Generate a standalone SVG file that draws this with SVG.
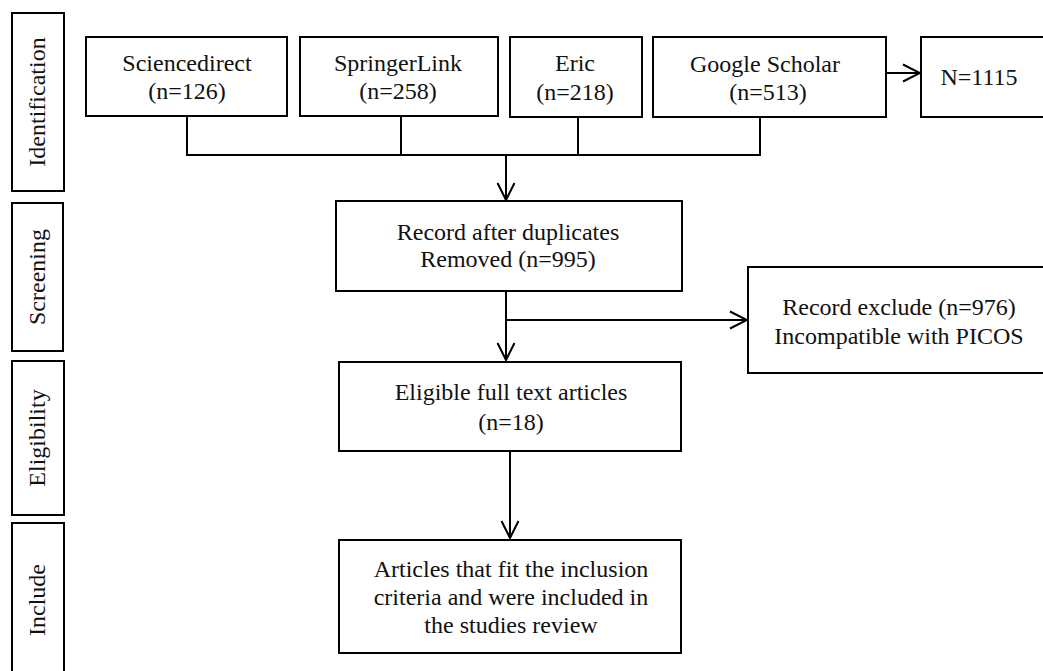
<svg xmlns="http://www.w3.org/2000/svg" width="1043" height="671" viewBox="0 0 1043 671">
<defs>
<style>
.box{fill:#fff;stroke:#000;stroke-width:2}
.t{font-family:"Liberation Serif","Times New Roman",serif;font-size:24px;fill:#111;text-anchor:middle}
.c{fill:none;stroke:#000;stroke-width:2}
</style>
<marker id="arr" viewBox="0 0 20 20" refX="18" refY="10" markerWidth="20" markerHeight="20" markerUnits="userSpaceOnUse" orient="auto">
<path d="M1,1.5 L18,10 L1,18.5" fill="none" stroke="#000" stroke-width="2"/>
</marker>
</defs>
<rect width="1043" height="671" fill="#fff"/>

<g id="stage-identification">
<rect class="box" x="12" y="13" width="52" height="178"/>
<text class="t" transform="translate(45,102) rotate(-90)">Identification</text>
</g>
<g id="stage-screening">
<rect class="box" x="12" y="203" width="51" height="148"/>
<text class="t" transform="translate(45,277) rotate(-90)">Screening</text>
</g>
<g id="stage-eligibility">
<rect class="box" x="12" y="361" width="52" height="154"/>
<text class="t" transform="translate(45,438) rotate(-90)">Eligibility</text>
</g>
<g id="stage-include">
<rect class="box" x="12" y="523" width="52" height="160"/>
<text class="t" transform="translate(45,600) rotate(-90)">Include</text>
</g>

<g id="sciencedirect">
<rect class="box" x="86" y="37" width="201" height="79"/>
<text class="t" x="187" y="71">Sciencedirect</text>
<text class="t" x="187" y="99">(n=126)</text>
</g>
<g id="springerlink">
<rect class="box" x="300" y="37" width="198" height="79"/>
<text class="t" x="398" y="71">SpringerLink</text>
<text class="t" x="398" y="99">(n=258)</text>
</g>
<g id="eric">
<rect class="box" x="510" y="37" width="132" height="80"/>
<text class="t" x="575" y="71">Eric</text>
<text class="t" x="575" y="100">(n=218)</text>
</g>
<g id="google-scholar">
<rect class="box" x="653" y="37" width="233" height="80"/>
<text class="t" x="765" y="72">Google Scholar</text>
<text class="t" x="768" y="100">(n=513)</text>
</g>
<g id="total">
<rect class="box" x="921" y="37" width="130" height="80"/>
<text class="t" x="979" y="85">N=1115</text>
</g>
<g id="after-duplicates">
<rect class="box" x="336" y="201" width="346" height="90"/>
<text class="t" x="508" y="240">Record after duplicates</text>
<text class="t" x="508" y="267">Removed (n=995)</text>
</g>
<g id="excluded">
<rect class="box" x="748" y="267" width="305" height="106"/>
<text class="t" x="899" y="315">Record exclude (n=976)</text>
<text class="t" x="899" y="344">Incompatible with PICOS</text>
</g>
<g id="eligible">
<rect class="box" x="339" y="362" width="342" height="89"/>
<text class="t" x="511" y="400">Eligible full text articles</text>
<text class="t" x="511" y="430">(n=18)</text>
</g>
<g id="included">
<rect class="box" x="339" y="540" width="342" height="113"/>
<text class="t" x="511" y="577">Articles that fit the inclusion</text>
<text class="t" x="511" y="605">criteria and were included in</text>
<text class="t" x="511" y="633">the studies review</text>
</g>

<g id="connectors">
<path class="c" d="M187,116 V155 H760 V117"/>
<path class="c" d="M401,116 V155"/>
<path class="c" d="M578,117 V155"/>
<path class="c" d="M506,155 V200" marker-end="url(#arr)"/>
<path class="c" d="M886,73 H920" marker-end="url(#arr)"/>
<path class="c" d="M506,291 V360" marker-end="url(#arr)"/>
<path class="c" d="M506,320 H747" marker-end="url(#arr)"/>
<path class="c" d="M510,451 V538" marker-end="url(#arr)"/>
</g>
</svg>
